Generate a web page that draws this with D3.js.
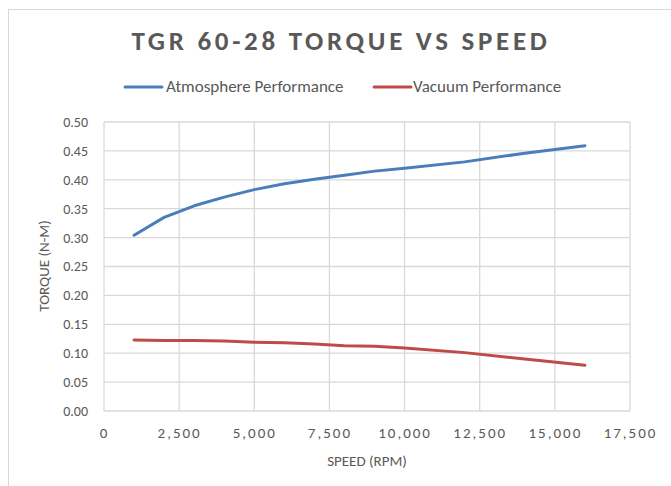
<!DOCTYPE html>
<html><head><meta charset="utf-8">
<script src="https://cdn.jsdelivr.net/npm/d3@7"></script>
<style>body{margin:0;background:#fff}svg{display:block}</style>
</head><body>
<svg id="c" width="671" height="486"></svg>
<script>
const speeds = [1000,2000,3000,4000,5000,6000,7000,8000,9000,10000,12000,14000,16000];
const atmosphere = [0.304,0.335,0.355,0.370,0.383,0.393,0.401,0.408,0.415,0.420,0.431,0.446,0.459];
const vacuum = [0.123,0.122,0.122,0.121,0.119,0.118,0.116,0.113,0.112,0.109,0.101,0.090,0.079];
const xTicks = [0,2500,5000,7500,10000,12500,15000,17500];
const yTicks = [0,0.05,0.10,0.15,0.20,0.25,0.30,0.35,0.40,0.45,0.50];
const seriesNames = ["Atmosphere Performance","Vacuum Performance"];
const colors = ["#4a7ebb","#be4b48"];

const font = "Carlito, 'Liberation Sans Narrow', 'Open Sans', sans-serif";
const svg = d3.select("#c");
svg.append("rect").attr("x",8.5).attr("y",9.5).attr("width",700).attr("height",520)
  .attr("fill","#fff").attr("stroke","#d9d9d9");

const L=104,R=630,T=122,B=411;
const x = d3.scaleLinear().domain([0,17500]).range([L,R]);
const y = d3.scaleLinear().domain([0,0.5]).range([B,T]);

// grid
svg.append("g").selectAll("line").data(yTicks).join("line")
  .attr("x1",L).attr("x2",R).attr("y1",d=>y(d)).attr("y2",d=>y(d))
  .attr("stroke","#d9d9d9").attr("stroke-width",1.3);
svg.append("g").selectAll("line").data(xTicks).join("line")
  .attr("y1",T).attr("y2",B).attr("x1",d=>x(d)).attr("x2",d=>x(d))
  .attr("stroke","#d9d9d9").attr("stroke-width",1.3);

// axes labels
const xa = svg.append("g").attr("transform",`translate(0,${B})`)
  .call(d3.axisBottom(x).tickValues(xTicks).tickFormat(d3.format(",")).tickSize(0).tickPadding(16));
xa.select(".domain").remove();
xa.selectAll("text").attr("font-family",font).attr("font-size",15).attr("fill","#595959").attr("letter-spacing","2px");
const ya = svg.append("g").attr("transform",`translate(${L},0)`)
  .call(d3.axisLeft(y).tickValues(yTicks).tickFormat(d3.format(".2f")).tickSize(0).tickPadding(16));
ya.select(".domain").remove();
ya.selectAll("text").attr("font-family",font).attr("font-size",14).attr("fill","#595959");

// lines
const line = d3.line().x((d,i)=>x(speeds[i])).y(d=>y(d));
[atmosphere,vacuum].forEach((s,k)=>{
  svg.append("path").datum(s).attr("d",line).attr("fill","none")
    .attr("stroke",colors[k]).attr("stroke-width",3).attr("stroke-linecap","round").attr("stroke-linejoin","round");
});

// title
svg.append("text").attr("x",341).attr("y",50).attr("text-anchor","middle")
  .attr("font-family",font).attr("font-size",27).attr("font-weight","bold")
  .attr("letter-spacing","3.7px").attr("fill","#595959").text("TGR 60-28 TORQUE VS SPEED");

// legend
const leg = [{x1:125,x2:162,tx:166},{x1:374,x2:411,tx:413}];
leg.forEach((l,k)=>{
  svg.append("line").attr("x1",l.x1).attr("x2",l.x2).attr("y1",87).attr("y2",87)
    .attr("stroke",colors[k]).attr("stroke-width",3).attr("stroke-linecap","round");
  svg.append("text").attr("x",l.tx).attr("y",92).attr("font-family",font).attr("font-size",17)
    .attr("fill","#595959").text(seriesNames[k]);
});

// axis titles
svg.append("text").attr("x",367).attr("y",466).attr("text-anchor","middle")
  .attr("font-family",font).attr("font-size",15).attr("fill","#595959").text("SPEED (RPM)");
svg.append("text").attr("transform","translate(49,266) rotate(-90)").attr("text-anchor","middle")
  .attr("font-family",font).attr("font-size",15).attr("fill","#595959").text("TORQUE (N-M)");
</script>
</body></html>
